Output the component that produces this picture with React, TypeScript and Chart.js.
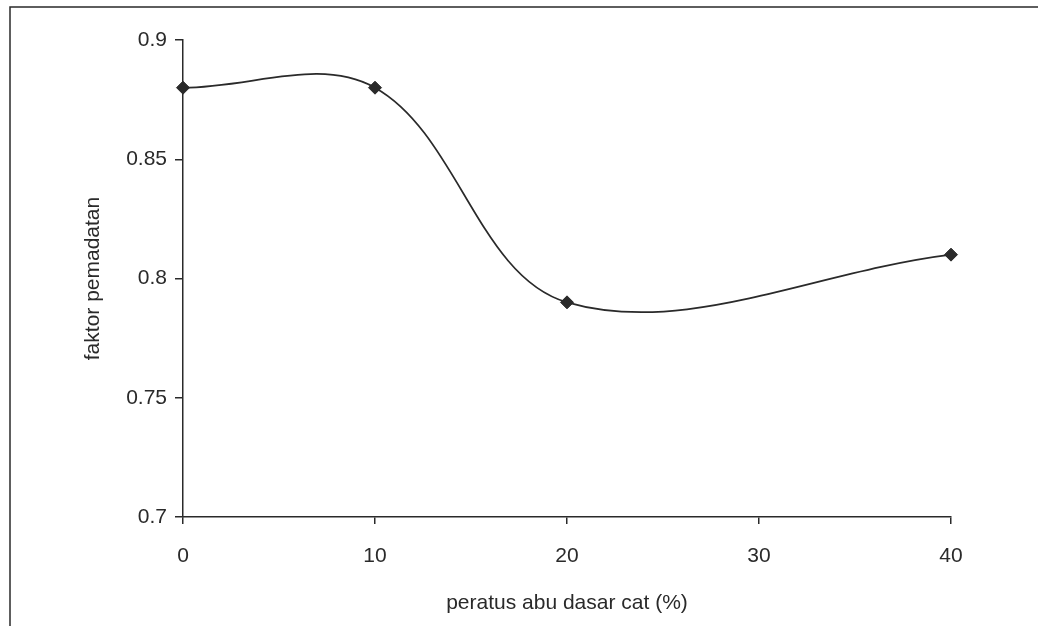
import React, { useEffect, useRef } from "react";
import { Chart, registerables } from "chart.js";

Chart.register(...registerables);

const xValues = [0, 10, 20, 40];
const yValues = [0.88, 0.88, 0.79, 0.81];
const xTicks = [0, 10, 20, 30, 40];
const yTicks = [0.7, 0.75, 0.8, 0.85, 0.9];
const xTitle = "peratus abu dasar cat (%)";
const yTitle = "faktor pemadatan";

const INK = "#2a2a2a";
const FONT = { family: "'Liberation Sans', Arial, sans-serif", size: 21 };

const framePlugin = {
  id: "frame",
  beforeDraw(chart: any) {
    const ctx = chart.ctx;
    ctx.save();
    ctx.strokeStyle = INK;
    ctx.lineWidth = 1.5;
    ctx.beginPath();
    ctx.moveTo(10, 626);
    ctx.lineTo(10, 7);
    ctx.lineTo(1038, 7);
    ctx.stroke();
    ctx.restore();
  },
};

export default function App() {
  const ref = useRef<HTMLCanvasElement | null>(null);
  useEffect(() => {
    document.body.style.margin = "0";
    const canvas = ref.current;
    if (!canvas) return;
    const chart = new Chart(canvas, {
      type: "line",
      data: {
        datasets: [
          {
            data: xValues.map((x, i) => ({ x, y: yValues[i] })),
            borderColor: INK,
            borderWidth: 1.7,
            backgroundColor: INK,
            pointStyle: "rectRot",
            pointRadius: 6.5,
            pointBorderWidth: 1,
            pointBackgroundColor: INK,
            pointBorderColor: INK,
            tension: 0.36,
            fill: false,
            clip: false,
          },
        ],
      },
      options: {
        animation: false,
        responsive: false,
        devicePixelRatio: 1,
        layout: { padding: { left: 0, right: 87, top: 40, bottom: 0 } },
        plugins: { legend: { display: false }, tooltip: { enabled: false } },
        scales: {
          x: {
            type: "linear",
            min: 0,
            max: 40,
            afterBuildTicks: (s: any) => {
              s.ticks = xTicks.map((v) => ({ value: v }));
            },
            afterFit: (s: any) => {
              s.height = 109;
            },
            ticks: { color: INK, font: FONT, padding: 20, maxRotation: 0 },
            grid: { drawOnChartArea: false, drawTicks: true, tickLength: 7, color: INK, lineWidth: 1.5 },
            border: { display: true, color: INK, width: 1.5 },
            title: { display: true, text: xTitle, color: INK, font: FONT, padding: { top: 0, bottom: 10 } },
          },
          y: {
            type: "linear",
            min: 0.7,
            max: 0.9,
            afterBuildTicks: (s: any) => {
              s.ticks = yTicks.map((v) => ({ value: v }));
            },
            afterFit: (s: any) => {
              s.width = 183;
            },
            ticks: {
              color: INK,
              font: FONT,
              padding: 8,
              callback: (v: any) => String(Number(Number(v).toFixed(2))),
            },
            grid: { drawOnChartArea: false, drawTicks: true, tickLength: 8, color: INK, lineWidth: 1.5 },
            border: { display: true, color: INK, width: 1.5 },
            title: { display: true, text: yTitle, color: INK, font: FONT, padding: { top: 81, bottom: 0 } },
          },
        },
      },
      plugins: [framePlugin],
    } as any);
    return () => chart.destroy();
  }, []);
  return (
    <div style={{ position: "absolute", left: 0, top: 0, width: 1038, height: 626 }}>
      <canvas ref={ref} width={1038} height={626} style={{ width: 1038, height: 626 }} />
    </div>
  );
}
